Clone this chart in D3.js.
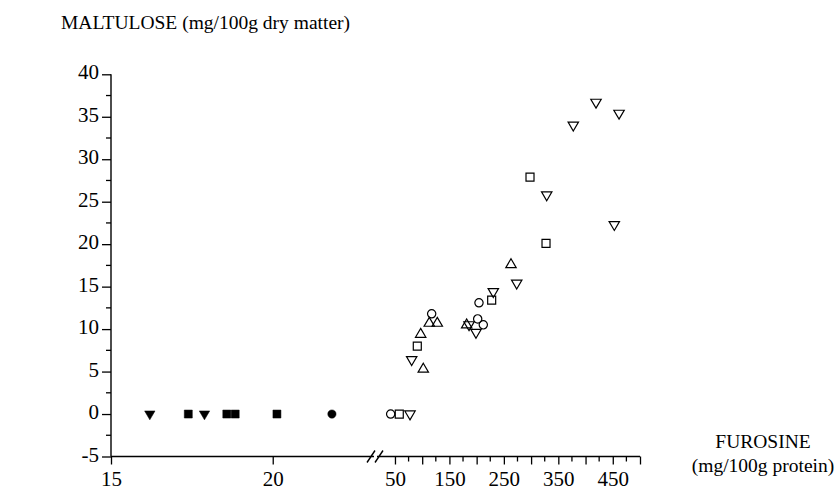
<!DOCTYPE html>
<html>
<head>
<meta charset="utf-8">
<script src="https://cdn.jsdelivr.net/npm/d3@7"></script>
<style>
  body { margin: 0; background: #fff; }
  svg text { font-family: "Liberation Serif", "Times New Roman", serif; fill: #000; }
</style>
</head>
<body>
<div id="chart"></div>
<script>
// values
var yTicks = [-5, 0, 5, 10, 15, 20, 25, 30, 35, 40];
var lowTickLabels = [15, 20];
var highTickLabels = [50, 150, 250, 350, 450];

// filled markers, left part of the axis (15..23)
var filledDownX = [16.2, 17.89];
var filledDownY = [0, 0];
var filledSquareX = [17.39, 18.58, 18.84, 20.13];
var filledSquareY = [0, 0, 0, 0];
var filledCircleX = [21.83];
var filledCircleY = [0];

// open markers, right part of the axis (50..500)
var openCircleX = [42.1, 117.4, 201.9, 212.2, 204.3];
var openCircleY = [0, 11.8, 11.2, 10.5, 13.1];
var openSquareX = [57.9, 91.0, 227.6, 298, 327.4];
var openSquareY = [0, 8.0, 13.4, 27.9, 20.1];
var openUpX = [102.0, 97.2, 113.0, 127.7, 181.7, 263.1];
var openUpY = [5.3, 9.4, 10.7, 10.7, 10.5, 17.6];
var openDownX = [77.6, 80.7, 186, 198.8, 230.6, 273.6, 328.7, 377.5, 419.2, 461.5, 452.8];
var openDownY = [0, 6.4, 10.5, 9.6, 14.4, 15.4, 25.8, 34.0, 36.7, 35.4, 22.3];

var width = 839, height = 491;

var svg = d3.select("#chart")
    .append("svg")
    .attr("width", width)
    .attr("height", height);

var y = d3.scaleLinear().domain([-5, 40]).range([456.5, 74.3]);
var xLow = d3.scaleLinear().domain([15, 23.1]).range([111, 373]);
var xHigh = d3.scaleLinear().domain([26, 500]).range([381.9, 640]);

function xPos(v) {
    return v < 25 ? xLow(v) : xHigh(v);
}

var fontSize = "21px";

/* ------- Y AXIS -------*/
var yMinor = d3.range(-2.5, 40, 5);

var yAxis = svg.append("g")
    .attr("transform", "translate(111,0)")
    .call(d3.axisLeft(y).tickValues(yTicks).tickSize(9).tickPadding(3)
        .tickFormat(function (d) { return String(d); }));
yAxis.select(".domain").attr("stroke-width", 1.4).attr("d", "M0," + y(-5) + "V" + y(40));
yAxis.selectAll(".tick line").attr("stroke-width", 1.3);
yAxis.selectAll(".tick text")
    .style("font-size", fontSize)
    .attr("dy", "0.22em");

svg.append("g").selectAll("line")
    .data(yMinor)
    .enter().append("line")
    .attr("x1", 106).attr("x2", 111)
    .attr("y1", function (d) { return y(d); })
    .attr("y2", function (d) { return y(d); })
    .attr("stroke", "#000").attr("stroke-width", 1.3);

/* ------- X AXIS, TWO SEGMENTS -------*/
var axisY = y(-5);

var lowAxis = svg.append("g")
    .attr("transform", "translate(0," + axisY + ")")
    .call(d3.axisBottom(xLow).tickValues(lowTickLabels).tickSize(8).tickPadding(7)
        .tickFormat(function (d) { return String(d); }));
lowAxis.select(".domain").attr("stroke-width", 1.4).attr("d", "M111,0H374");

var highMajor = d3.range(50, 501, 50);
var highMinor = d3.range(75, 500, 50);

var highAxis = svg.append("g")
    .attr("transform", "translate(0," + axisY + ")")
    .call(d3.axisBottom(xHigh).tickValues(highMajor).tickSize(8).tickPadding(7)
        .tickFormat(function (d) { return highTickLabels.indexOf(d) >= 0 ? String(d) : ""; }));
highAxis.select(".domain").attr("stroke-width", 1.4).attr("d", "M377,0H640");

svg.append("g")
    .attr("transform", "translate(0," + axisY + ")")
    .selectAll("line")
    .data(highMinor)
    .enter().append("line")
    .attr("x1", function (d) { return xHigh(d); })
    .attr("x2", function (d) { return xHigh(d); })
    .attr("y1", 0).attr("y2", 5)
    .attr("stroke", "#000").attr("stroke-width", 1.3);

[lowAxis, highAxis].forEach(function (a) {
    a.selectAll(".tick line").attr("stroke-width", 1.3);
    a.selectAll(".tick text").style("font-size", fontSize);
});

// axis break
svg.append("g")
    .attr("transform", "translate(0," + axisY + ")")
    .selectAll("line")
    .data([371, 379])
    .enter().append("line")
    .attr("x1", function (d) { return d - 4; })
    .attr("x2", function (d) { return d + 4; })
    .attr("y1", 6).attr("y2", -6)
    .attr("stroke", "#000").attr("stroke-width", 1.4);

/* ------- MARKERS -------*/
var shapes = {
    square: "M-4,-4H4V4H-4Z",
    up: "M0,-5.8L5.2,3.1L-5.2,3.1Z",
    down: "M0,5.8L5.2,-3.1L-5.2,-3.1Z",
    circle: d3.symbol(d3.symbolCircle, 54)()
};

function plot(xs, ys, shape, filled) {
    svg.append("g").selectAll("path")
        .data(xs.map(function (v, i) { return [v, ys[i]]; }))
        .enter().append("path")
        .attr("d", shapes[shape])
        .attr("transform", function (d) {
            return "translate(" + xPos(d[0]) + "," + y(d[1]) + ")";
        })
        .attr("fill", filled ? "#000" : "none")
        .attr("stroke", "#000")
        .attr("stroke-width", filled ? 0.5 : 1.2);
}

plot(filledDownX, filledDownY, "down", true);
plot(filledSquareX, filledSquareY, "square", true);
plot(filledCircleX, filledCircleY, "circle", true);
plot(openCircleX, openCircleY, "circle", false);
plot(openSquareX, openSquareY, "square", false);
plot(openUpX, openUpY, "up", false);
plot(openDownX, openDownY, "down", false);

/* ------- TITLES -------*/
svg.append("text")
    .attr("x", 61).attr("y", 29)
    .style("font-size", "19.5px")
    .text("MALTULOSE (mg/100g dry matter)");

var xt = svg.append("text")
    .attr("text-anchor", "middle")
    .style("font-size", "19.5px");
xt.append("tspan").attr("x", 763).attr("y", 448).text("FUROSINE");
xt.append("tspan").attr("x", 763).attr("y", 472).text("(mg/100g protein)");
</script>
</body>
</html>
